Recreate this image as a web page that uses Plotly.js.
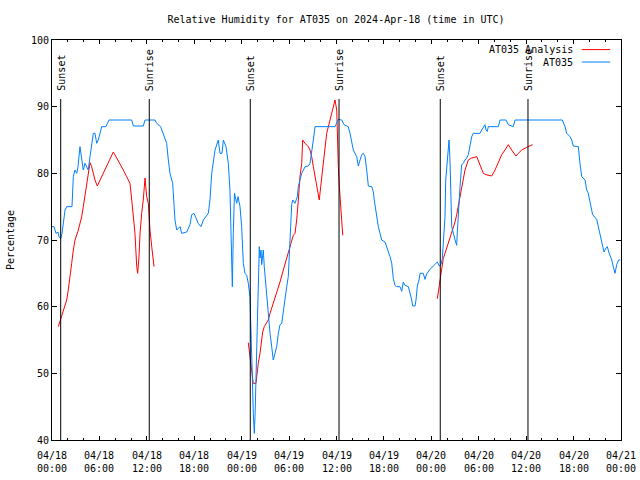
<!DOCTYPE html>
<html>
<head>
<meta charset="utf-8">
<script src="https://cdn.plot.ly/plotly-3.0.1.min.js"></script>
<style>html,body{margin:0;padding:0;background:#fff}#chart{width:640px;height:480px}</style>
</head>
<body>
<div id="chart"></div>
<script>
// Hours after 2024-04-18 00:00 UTC
var obsHours = [0.00,0.25,0.51,0.76,0.89,1.10,1.27,1.39,1.52,1.65,1.86,2.53,2.70,2.91,3.13,3.29,3.54,3.76,3.96,4.18,4.59,4.81,5.23,5.44,5.66,5.86,6.29,6.83,7.21,10.09,10.29,11.55,11.77,13.03,13.25,13.75,14.08,14.51,14.72,14.93,15.27,15.44,15.56,15.78,16.20,16.41,17.05,17.46,17.68,17.97,18.51,18.85,19.15,19.78,19.99,20.21,20.63,21.04,21.26,21.51,21.68,22.02,22.31,22.52,22.65,22.82,22.94,23.09,23.37,23.54,23.79,24.00,24.21,24.42,24.64,24.84,25.05,25.14,25.27,25.35,25.47,25.60,25.69,25.81,25.98,26.10,26.23,26.32,26.45,26.53,26.74,26.86,27.17,27.37,27.59,27.80,28.00,28.22,28.43,28.64,28.85,29.07,29.27,29.48,29.70,29.90,30.03,30.21,30.33,30.46,30.75,31.04,31.17,31.38,31.60,32.02,32.43,32.65,32.86,33.07,33.28,35.81,36.23,36.66,36.95,37.49,37.71,37.92,38.13,38.34,38.56,38.76,38.97,39.19,39.39,39.61,39.82,40.03,40.46,40.66,40.78,40.96,41.09,41.29,41.51,41.72,42.14,42.35,42.56,42.77,42.99,43.19,43.40,43.62,44.04,44.25,44.45,44.67,45.09,45.30,45.52,45.64,45.93,46.06,46.23,46.44,46.57,46.98,47.20,47.41,47.83,48.25,48.59,48.76,49.01,49.22,49.39,49.51,49.73,49.82,50.07,50.24,50.36,50.45,50.58,51.00,51.21,51.29,51.41,51.63,51.84,52.05,52.26,52.47,52.68,52.89,53.11,53.31,54.16,54.37,54.58,54.79,54.92,55.08,55.21,56.48,56.69,57.45,57.74,58.37,58.59,64.57,64.92,65.13,65.55,65.76,65.96,66.60,66.81,67.03,67.45,67.66,67.86,68.07,68.29,68.41,68.92,69.13,69.34,69.56,69.85,70.10,70.27,70.45,70.61,70.83,71.03,71.24,71.46,71.69,71.90];
var obsRH = [72,72,71,71.2,70.5,70.2,71,72,73.5,74.5,75,75,79.5,80.5,80,81,84,82.5,80.5,81.5,80.5,82.5,86,86,84.5,85,87,87,88,88,87.1,87.1,88,88,87.5,87,86,84.5,82,80,78.5,75,73,71.5,72,71,71.2,72.3,73.8,74,72.5,72,73,74,76,80,83.5,85,83,83,85,84,81.5,77.5,71,63,71,77,75.5,76.5,75,72,66.5,65,64.7,63.5,61.5,58.7,54.5,49.5,44,41,43.5,49.5,59.5,64.5,69,67.3,68.5,66.3,68.5,66,61.5,59,56,54,52,53,54,56,57.3,57.5,59.5,61.5,63,64.5,68,72.5,75.3,76,75.5,76.5,78,79,80,81,81.1,81.5,83,85,87,87,88.1,88,87.3,87,86,84.5,83.5,83,82.5,81.1,82,82.8,83,82.5,80.5,78.1,78,77.2,76,74.5,73,72,71,70,69.7,69,68.2,67.5,66.5,64.2,63.2,63,63,62.3,63.7,63.2,63,62.2,61,60.1,60.1,61,63.1,64,65,65,64.1,64.9,65.6,66.1,66.5,66.7,66.1,66.3,67.2,70,73.5,79,82.5,85,82,76.5,72,70,69.2,71.2,74,78,81.3,81.5,82,82.3,82.8,84,85.5,86,86,86.5,87,87.3,86.5,86.3,87,87,88,88,87.3,87,88,88,87,86,85.5,85,84.1,84,81.5,79.5,79,77.5,77,76,74.5,73.8,73.1,72,71,69.7,68.2,68.8,69,68.2,67.8,67,66,65,66.3,67,67];

// Analysis series (null = gap)
var anaHours = [0.80,1.10,1.43,1.86,2.06,2.28,2.49,2.70,2.91,3.33,3.54,3.76,3.96,4.09,4.30,4.52,4.81,5.02,5.44,5.73,6.07,6.49,6.92,7.34,7.76,8.19,8.60,9.02,9.45,9.87,10.09,10.29,10.50,10.72,10.84,11.01,11.14,11.35,11.55,11.77,11.98,12.19,12.27,12.40,12.62,12.82,12.91,
  18.0,
  24.84,24.97,25.14,25.27,25.47,25.81,25.90,26.10,26.32,26.53,26.66,26.86,27.08,27.37,27.59,28.00,28.43,28.85,29.27,29.70,30.12,30.33,30.53,30.75,30.96,31.17,31.38,31.60,31.72,32.02,32.43,32.65,32.86,33.07,33.28,33.50,33.70,33.82,34.00,34.25,34.55,34.76,35.18,35.52,35.81,36.03,36.10,36.23,36.36,36.53,36.61,36.70,36.79,
  42.0,
  48.76,48.88,49.01,49.19,49.31,49.51,49.73,49.94,50.15,50.36,50.58,50.78,51.00,51.21,51.41,51.54,51.84,52.26,52.68,53.11,53.74,54.16,54.58,54.92,55.64,56.06,56.48,56.91,57.32,57.74,58.17,58.71,59.01,59.44,60.07,60.83];
var anaRH = [57,58.2,59.5,61,62.5,64.2,66.5,68.5,70,71.5,72.5,73.5,75,76,77.5,79.5,81.6,81,79,78.1,79,80,81,82.3,83.2,82.3,81.5,80.5,79.5,78.5,76,73,71,66,65,67.5,71,74,76,79.3,76.5,75.5,73.5,71.5,69,67,66,
  null,
  54.6,53.2,51.5,50,48.5,48.5,49.5,51.5,53,55,56.2,57,57.5,58,59,60.5,62,63.7,65.5,67.2,69,70,70.7,71,73,76,79.5,81.5,85,84.5,84,83.5,82.5,81,79.5,78,76.8,76,78,80.5,83.5,86,88,89.5,91,89.5,84,81,78,75,74.5,72,70.7,
  null,
  61.2,62.5,63.2,64.7,66,67.2,68,68.8,69.5,70.2,71,71.7,72.7,73.8,75,76,78,80.5,82,82.3,82.5,81.3,80,79.8,79.6,80.5,81.7,82.8,83.5,84.3,83.5,82.6,83,83.5,83.9,84.3];

var eventHours = [1.10, 12.31, 25.09, 36.32, 49.13, 60.23];
var eventNames = ["Sunset","Sunrise","Sunset","Sunrise","Sunset","Sunrise"];
var eventLineTop = 91.15;

var tickHours = [0,6,12,18,24,30,36,42,48,54,60,66,72];
var tickLabels = ["04/18<br>00:00","04/18<br>06:00","04/18<br>12:00","04/18<br>18:00","04/19<br>00:00","04/19<br>06:00","04/19<br>12:00","04/19<br>18:00","04/20<br>00:00","04/20<br>06:00","04/20<br>12:00","04/20<br>18:00","04/21<br>00:00"];

var seriesNames = ["AT035 Analysis","AT035"];
var seriesColors = ["#ff0000","#0080ff"];

var BASE = Date.UTC(2024,3,18,0,0,0);
function toDate(h){ if(h===null) return null; return new Date(BASE + h*3600000).toISOString().replace('T',' ').slice(0,19); }

var FONT = "DejaVu Sans Mono, monospace";

var traces = [
  {x: anaHours.map(toDate), y: anaRH, mode:'lines', name: seriesNames[0], line:{color:seriesColors[0], width:1}, connectgaps:false},
  {x: obsHours.map(toDate), y: obsRH, mode:'lines', name: seriesNames[1], line:{color:seriesColors[1], width:1}}
];

var shapes = eventHours.map(function(h){
  return {type:'line', xref:'x', yref:'y', x0:toDate(h), x1:toDate(h), y0:40, y1:eventLineTop, line:{color:'#000', width:1}};
});
var annotations = eventHours.map(function(h,i){
  return {xref:'x', yref:'y', x:toDate(h), y:eventLineTop+0.9, text:eventNames[i], showarrow:false, textangle:-90, xanchor:'center', yanchor:'bottom', font:{family:FONT, size:10, color:'#000'}};
});
// x tick labels (two lines) placed below the axis
tickHours.forEach(function(h,i){
  annotations.push({xref:'x', yref:'paper', x:toDate(h), y:-0.019, text:tickLabels[i], showarrow:false, xanchor:'center', yanchor:'top', align:'center', font:{family:FONT, size:10, color:'#000'}});
});
// gnuplot-style legend: text right-aligned, sample to the right
var legY = [0.976, 0.945];
seriesNames.forEach(function(n,i){
  annotations.push({xref:'paper', yref:'paper', x:0.919, y:legY[i], text:n, showarrow:false, xanchor:'right', yanchor:'middle', font:{family:FONT, size:10, color:'#000'}});
  shapes.push({type:'line', xref:'paper', yref:'paper', x0:0.931, x1:0.981, y0:legY[i], y1:legY[i], line:{color:seriesColors[i], width:1}});
});

var layout = {
  width:640, height:480,
  margin:{l:52, r:19, t:40, b:40},
  paper_bgcolor:'#fff', plot_bgcolor:'#fff',
  showlegend:false,
  font:{family:FONT, size:10, color:'#000'},
  title:{text:'Relative Humidity for AT035 on 2024-Apr-18 (time in UTC)', x:0.525, xanchor:'center', y:0.96, yanchor:'middle', font:{family:FONT, size:10, color:'#000'}},
  xaxis:{
    type:'date', range:[toDate(0), toDate(72)],
    tickmode:'array', tickvals: tickHours.map(toDate), ticktext: tickLabels, showticklabels:false,
    ticks:'inside', ticklen:4, tickcolor:'#000', tickwidth:1,
    minor:{dtick: 7200000, tick0: toDate(0), ticks:'inside', ticklen:2, tickcolor:'#000', tickwidth:1, showgrid:false},
    showline:true, linecolor:'#000', linewidth:1, mirror:'ticks',
    showgrid:false, zeroline:false
  },
  yaxis:{
    range:[40,100], dtick:10, tick0:40,
    ticks:'inside', ticklen:5, tickcolor:'#000', tickwidth:1,
    showline:true, linecolor:'#000', linewidth:1, mirror:'ticks',
    showgrid:false, zeroline:false,
    tickfont:{family:FONT, size:10, color:'#000'},
    title:{text:'Percentage', standoff:14, font:{family:FONT, size:10, color:'#000'}}
  },
  shapes: shapes,
  annotations: annotations
};

Plotly.newPlot('chart', traces, layout, {staticPlot:true, displayModeBar:false});
</script>
</body>
</html>
